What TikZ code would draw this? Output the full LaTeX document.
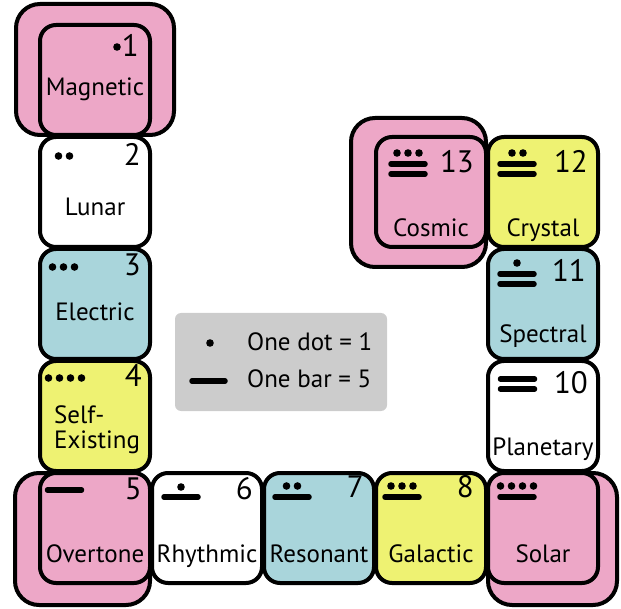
\documentclass[tikz,border=0pt]{standalone}
\usepackage{fontspec}
\setmainfont{PT Sans}
\usetikzlibrary{calc}
\definecolor{tilepink}{HTML}{EDA7C7}
\definecolor{tileyellow}{HTML}{EEF272}
\definecolor{tileblue}{HTML}{A9D5DB}
\definecolor{keygray}{HTML}{CCCCCC}
\newcommand\dotrow[3]{\foreach \i in {1,...,#3} {\fill ({#1+11*(\i-(#3+1)/2)},#2) circle (3.8pt);}}
\newcommand\barrow[3]{\foreach \j in {1,...,#3} {\draw[bar] ({#1-17},{#2+10*(\j-1)}) -- ++(34,0);}}

\begin{document}
\begin{tikzpicture}[x=1pt,y=-1pt,
  tile/.style={draw,line width=4pt,rounded corners=16pt,minimum width=110pt,minimum height=110pt,inner sep=0pt},
  halo/.style={draw,line width=4pt,rounded corners=24pt,fill=tilepink},
  num/.style={anchor=base east,inner sep=0pt,font=\fontsize{31}{31}\selectfont},
  lab/.style={anchor=base,inner sep=0pt,font=\fontsize{25}{25}\selectfont},
  bar/.style={line width=5.5pt,line cap=round}]
\useasboundingbox (0,0) rectangle (621,609);

\draw[halo] (16,4) rectangle (174,135);
\draw[halo] (351,118) rectangle (486,267);
\draw[halo] (15,473) rectangle (150,605);
\draw[halo] (488,473) rectangle (617,605);

\node[tile,fill=tilepink] (magnetic) at (95,80) {};
\node[tile,fill=white] (lunar) at (95,192) {};
\node[tile,fill=tileblue] (electric) at (95,304) {};
\node[tile,fill=tileyellow] (selfexisting) at (95,416) {};
\node[tile,fill=tilepink] (overtone) at (95,528) {};
\node[tile,fill=white] (rhythmic) at (207,528) {};
\node[tile,fill=tileblue] (resonant) at (319,528) {};
\node[tile,fill=tileyellow] (galactic) at (431,528) {};
\node[tile,fill=tilepink] (solar) at (543,528) {};
\node[tile,fill=white] (planetary) at (543,416) {};
\node[tile,fill=tileblue] (spectral) at (543,304) {};
\node[tile,fill=tileyellow] (crystal) at (543,192) {};
\node[tile,fill=tilepink] (cosmic) at (431,192) {};

\node[num] (num1) at ($(magnetic)+(44,-23)$) {1};
\node[num] (num2) at ($(lunar)+(46,-26)$) {2};
\node[num] (num3) at ($(electric)+(46,-28)$) {3};
\node[num] (num4) at ($(selfexisting)+(47,-29)$) {4};
\node[num] (num5) at ($(overtone)+(47,-29)$) {5};
\node[num] (num6) at ($(rhythmic)+(46,-29)$) {6};
\node[num] (num7) at ($(resonant)+(45,-31)$) {7};
\node[num] (num8) at ($(galactic)+(43,-31)$) {8};
\node[num] (num10) at ($(planetary)+(45,-23)$) {10};
\node[num] (num11) at ($(spectral)+(43,-22)$) {11};
\node[num] (num12) at ($(crystal)+(45,-19)$) {12};
\node[num] (num13) at ($(cosmic)+(43,-19)$) {13};

\node[lab] (magneticlab) at ($(magnetic)+(0,16)$) {Magnetic};
\node[lab] (lunarlab) at ($(lunar)+(0,24)$) {Lunar};
\node[lab] (electriclab) at ($(electric)+(0,17)$) {Electric};
\node[lab,anchor=base west,align=left] (selfexistinglab) at ($(selfexisting)+(-41,32)$) {Self-\\Existing};
\node[lab] (overtonelab) at ($(overtone)+(0,34)$) {Overtone};
\node[lab] (rhythmiclab) at ($(rhythmic)+(0,34)$) {Rhythmic};
\node[lab] (resonantlab) at ($(resonant)+(0,34)$) {Resonant};
\node[lab] (galacticlab) at ($(galactic)+(0,34)$) {Galactic};
\node[lab] (solarlab) at ($(solar)+(0,34)$) {Solar};
\node[lab] (planetarylab) at ($(planetary)+(0,39)$) {Planetary};
\node[lab] (spectrallab) at ($(spectral)+(0,39)$) {Spectral};
\node[lab] (crystallab) at ($(crystal)+(0,45)$) {Crystal};
\node[lab] (cosmiclab) at ($(cosmic)+(0,45)$) {Cosmic};

\dotrow{117}{47}{1}
\dotrow{64}{156}{2}
\dotrow{63.5}{267}{3}
\dotrow{65}{378}{4}
\barrow{64.5}{490}{1}
\dotrow{181}{487}{1} \barrow{181}{497}{1}
\dotrow{292}{486}{2} \barrow{292}{497}{1}
\dotrow{402}{486}{3} \barrow{402}{497}{1}
\dotrow{517}{486}{4} \barrow{517}{497}{1}
\barrow{517.5}{379}{2}
\dotrow{517}{263}{1} \barrow{517}{274}{2}
\dotrow{517.5}{153}{2} \barrow{517}{164}{2}
\dotrow{408}{153}{3} \barrow{408}{164}{2}

\fill[keygray,rounded corners=6pt] (175,313) rectangle (387,411);
\fill (210,343) circle (3.8pt);
\draw[bar] (192,381) -- (225,381);
\node[lab,anchor=base west] (keydot) at (247,351) {One dot = 1};
\node[lab,anchor=base west] (keybar) at (247,388) {One bar = 5};
\end{tikzpicture}
\end{document}
